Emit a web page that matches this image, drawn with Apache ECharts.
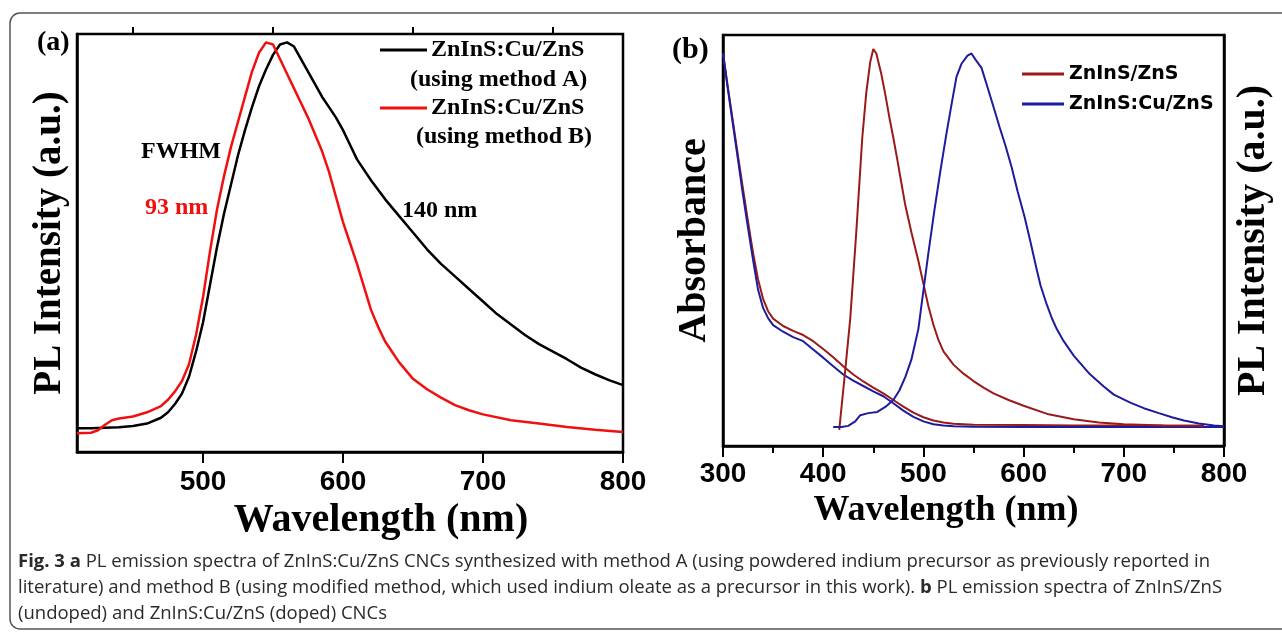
<!DOCTYPE html>
<html>
<head>
<meta charset="utf-8">
<title>Fig. 3</title>
<script src="https://cdn.jsdelivr.net/npm/echarts@6/dist/echarts.min.js"></script>
<style>
html, body { margin: 0; padding: 0; background: #fff; }
#main { width: 1282px; height: 632px; }
</style>
</head>
<body>
<div id="main"></div>
<script>
// (a) PL of ZnInS:Cu/ZnS, method A (black) and method B (red), intensity 0-100 a.u.
var wlA = [410, 420, 430, 440, 450, 460, 470, 475, 480, 485, 490, 495, 500, 505, 510, 515, 520, 525, 530, 535, 540, 545, 550, 555, 560, 565, 570, 575, 580, 585, 590, 595, 600, 605, 610, 620, 630, 640, 650, 660, 670, 680, 690, 700, 710, 720, 730, 740, 750, 760, 770, 780, 790, 800]
var plA = [5.7, 5.7, 5.8, 5.9, 6.2, 6.8, 8.2, 9.5, 11.5, 14, 18, 24, 31, 40, 49, 57, 64, 71, 77, 82.5, 87.5, 91.5, 95, 97.5, 98, 97, 94, 91, 88, 85, 82.5, 80, 77, 73.5, 70, 65, 60.5, 56.5, 52.5, 48.5, 45, 42, 39, 36, 33, 30.5, 28, 25.8, 24, 22.2, 20.2, 18.6, 17.2, 16]
var wlB = [410, 420, 425, 430, 435, 440, 450, 460, 470, 475, 480, 485, 490, 495, 500, 505, 510, 515, 520, 525, 530, 535, 540, 545, 550, 555, 560, 565, 570, 575, 580, 585, 590, 595, 600, 605, 610, 615, 620, 625, 630, 635, 640, 650, 660, 670, 680, 690, 700, 720, 740, 760, 780, 800]
var plB = [4.5, 4.6, 5.2, 6.5, 7.6, 8, 8.5, 9.5, 11, 12.5, 14.5, 17, 21, 28, 37, 48, 58, 66, 73, 79, 85, 91, 95.5, 98, 97.5, 94, 90.5, 87, 83.5, 80, 76, 72, 67, 61, 55, 50, 45, 39.5, 34, 30, 26.5, 24, 21.5, 17.5, 15, 13, 11.2, 10, 9, 7.6, 6.8, 6, 5.3, 4.8]
var ticksA = [500, 600, 700, 800]
var minorTicksA = [450, 550, 650, 750]

// (b) absorbance (left axis) and PL (right axis), undoped = ZnInS/ZnS, doped = ZnInS:Cu/ZnS
var wlAbsU = [300, 305, 310, 315, 320, 325, 330, 335, 340, 345, 350, 360, 370, 380, 390, 400, 410, 420, 430, 440, 450, 460, 470, 480, 490, 500, 510, 520, 530, 550, 600, 650, 700, 750, 780]
var absU = [95.6, 87, 78.8, 70.5, 62.5, 54.5, 47, 40.5, 35.8, 32.8, 31, 29.2, 28, 27, 25.5, 23.6, 21.6, 19.4, 17.4, 15.7, 14.2, 12.8, 11.2, 9.6, 8.1, 7, 6.2, 5.7, 5.4, 5.2, 5.1, 5, 5, 4.9, 4.9]
var wlAbsD = [300, 305, 310, 315, 320, 325, 330, 335, 340, 345, 350, 360, 370, 380, 390, 400, 410, 420, 430, 440, 450, 460, 470, 480, 490, 500, 510, 520, 530, 550, 600, 650, 700, 750, 800]
var absD = [95.6, 86.6, 78.1, 69.6, 61, 53, 45.3, 38, 33.6, 31.1, 29.4, 27.8, 26.5, 25.5, 23.5, 21.5, 19.4, 17.4, 15.9, 14.6, 13.3, 12.1, 10.4, 8.6, 7.1, 6, 5.3, 5, 4.8, 4.7, 4.6, 4.6, 4.6, 4.6, 4.6]
var wlPlU = [416, 421, 427, 433, 439, 443, 447, 450, 453, 458, 462, 466, 470, 474, 478, 482, 488, 495, 500, 505, 510, 515, 520, 530, 540, 550, 560, 570, 585, 600, 625, 650, 675, 700, 740, 780]
var plU = [3.9, 16, 31, 52, 75, 86, 93.5, 96.6, 95.5, 90.5, 85.5, 80, 75, 69.6, 64, 58.5, 52, 45, 39.5, 34, 29.5, 25.8, 23, 19.8, 17.6, 15.8, 14.2, 12.8, 11.2, 9.8, 7.7, 6.5, 5.7, 5.3, 5, 4.9]
var wlPlD = [410, 418, 425, 432, 437, 445, 454, 462, 470, 476, 482, 488, 495, 499, 505, 511, 517, 523, 528, 533, 538, 544, 548, 552, 558, 564, 570, 576, 582, 588, 594, 601, 607, 613, 617, 623, 628, 633, 640, 650, 666, 680, 690, 707, 720, 735, 748, 760, 775, 790, 800]
var plD = [4.6, 4.6, 4.9, 6, 7.5, 8, 8.3, 9.5, 11.2, 13.5, 16.8, 21, 28.5, 36, 47, 57.4, 67, 76, 83, 89.8, 93, 95, 95.5, 94, 92, 87.3, 82.5, 77.6, 73, 67.9, 62, 55.7, 49.5, 43, 39, 34.5, 31.2, 28.5, 25.5, 22, 17.5, 14.5, 12.5, 10.5, 9.2, 8, 7, 6.2, 5.5, 5, 4.8]

var serif = 'Liberation Serif'
var sans = 'Liberation Sans'

function pairs(xs, ys) {
  return xs.map(function (x, i) { return [x, ys[i]] })
}

function txt(x, y, text, size, color, family) {
  return {
    type: 'text', x: x, y: y, silent: true,
    style: {
      text: text, fill: color || '#000', fontSize: size, fontWeight: 'bold',
      fontFamily: family || serif, align: 'left', verticalAlign: 'middle',
      textAlign: 'left', textVerticalAlign: 'middle'
    }
  }
}

function caption(y, text) {
  return {
    type: 'text', x: 18, y: y, silent: true,
    style: {
      text: text, fill: '#2a2a2a', fontSize: 18.5, fontFamily: 'Open Sans',
      verticalAlign: 'middle', textVerticalAlign: 'middle',
      rich: { b: { fontWeight: 'bold', fontSize: 18.5, fontFamily: 'Open Sans', fill: '#2a2a2a' } }
    }
  }
}

var axisBlack = { show: true, lineStyle: { color: '#000', width: 2.5 } }
var noY = {
  min: 0, max: 100, type: 'value', axisLine: axisBlack,
  axisTick: { show: false }, axisLabel: { show: false }, splitLine: { show: false }
}

var option = {
  animation: false,
  backgroundColor: '#fff',
  grid: [
    { left: 77, top: 34, width: 546, height: 418, show: true, borderColor: '#000', borderWidth: 2.5 },
    { left: 723, top: 35, width: 501, height: 411, show: true, borderColor: '#000', borderWidth: 2.5 }
  ],
  xAxis: [
    {
      gridIndex: 0, type: 'value', min: 410, max: 800,
      axisLine: axisBlack,
      axisTick: { customValues: ticksA, length: 11, lineStyle: { color: '#000', width: 2 } },
      axisLabel: { customValues: ticksA, color: '#000', fontFamily: sans, fontWeight: 'bold', fontSize: 28, margin: 16 },
      splitLine: { show: false },
      name: 'Wavelength (nm)', nameLocation: 'middle', nameGap: 43,
      nameTextStyle: { fontFamily: serif, fontWeight: 'bold', fontSize: 40, color: '#000', padding: [0, 0, 0, 62] }
    },
    {
      gridIndex: 0, type: 'value', min: 410, max: 800,
      axisLine: { show: false },
      axisTick: { customValues: minorTicksA, length: 7, lineStyle: { color: '#000', width: 2 } },
      axisLabel: { show: false }, splitLine: { show: false }
    },
    {
      gridIndex: 1, type: 'value', min: 300, max: 800, interval: 100,
      axisLine: axisBlack,
      axisTick: { length: 11, lineStyle: { color: '#000', width: 2 } },
      minorTick: { show: true, splitNumber: 2, length: 7, lineStyle: { color: '#000', width: 2 } },
      axisLabel: { color: '#000', fontFamily: sans, fontWeight: 'bold', fontSize: 28, margin: 14 },
      splitLine: { show: false },
      name: 'Wavelength (nm)', nameLocation: 'middle', nameGap: 46,
      nameTextStyle: { fontFamily: serif, fontWeight: 'bold', fontSize: 36, color: '#000', padding: [0, 55, 0, 0] }
    }
  ],
  yAxis: [
    Object.assign({}, noY, {
      gridIndex: 0, name: 'PL Intensity (a.u.)', nameLocation: 'middle', nameRotate: 90, nameGap: 8,
      nameTextStyle: { fontFamily: serif, fontWeight: 'bold', fontSize: 39, color: '#000' }
    }),
    Object.assign({}, noY, {
      gridIndex: 1, name: 'Absorbance', nameLocation: 'middle', nameRotate: 90, nameGap: 8,
      nameTextStyle: { fontFamily: serif, fontWeight: 'bold', fontSize: 40, color: '#000' }
    }),
    Object.assign({}, noY, {
      gridIndex: 1, position: 'right', name: 'PL Intensity (a.u.)', nameLocation: 'middle', nameRotate: 90, nameGap: 10,
      nameTextStyle: { fontFamily: serif, fontWeight: 'bold', fontSize: 40, color: '#000' }
    })
  ],
  legend: [
    {
      data: ['method A', 'method B'], orient: 'vertical', left: 380, top: 38, padding: 0,
      itemWidth: 47, itemHeight: 3, itemGap: 34, icon: 'rect', selectedMode: false,
      formatter: function () { return 'ZnInS:Cu/ZnS' },
      textStyle: { fontFamily: serif, fontWeight: 'bold', fontSize: 24, lineHeight: 24, color: '#000', padding: [0, 0, 0, -1] }
    },
    {
      data: ['ZnInS/ZnS', 'ZnInS:Cu/ZnS'], orient: 'vertical', left: 1022, top: 64, padding: 0,
      itemWidth: 42, itemHeight: 3, itemGap: 10, icon: 'rect', selectedMode: false,
      textStyle: { fontFamily: 'DejaVu Sans', fontWeight: 'bold', fontSize: 19, lineHeight: 20, color: '#000' }
    }
  ],
  series: [
    {
      name: 'method A', type: 'line', xAxisIndex: 0, yAxisIndex: 0, data: pairs(wlA, plA),
      showSymbol: false, itemStyle: { color: '#000' }, lineStyle: { color: '#000', width: 2.5 }
    },
    {
      name: 'method B', type: 'line', xAxisIndex: 0, yAxisIndex: 0, data: pairs(wlB, plB),
      showSymbol: false, itemStyle: { color: '#f01010' }, lineStyle: { color: '#f01010', width: 2.5 }
    },
    {
      name: 'ZnInS/ZnS', type: 'line', xAxisIndex: 2, yAxisIndex: 1, data: pairs(wlAbsU, absU),
      showSymbol: false, itemStyle: { color: '#9a1a1a' }, lineStyle: { color: '#9a1a1a', width: 2 }
    },
    {
      name: 'ZnInS:Cu/ZnS', type: 'line', xAxisIndex: 2, yAxisIndex: 1, data: pairs(wlAbsD, absD),
      showSymbol: false, itemStyle: { color: '#1c1c9c' }, lineStyle: { color: '#1c1c9c', width: 2 }
    },
    {
      name: 'ZnInS/ZnS', type: 'line', xAxisIndex: 2, yAxisIndex: 2, data: pairs(wlPlU, plU),
      showSymbol: false, itemStyle: { color: '#9a1a1a' }, lineStyle: { color: '#9a1a1a', width: 2 }
    },
    {
      name: 'ZnInS:Cu/ZnS', type: 'line', xAxisIndex: 2, yAxisIndex: 2, data: pairs(wlPlD, plD),
      showSymbol: false, itemStyle: { color: '#1c1c9c' }, lineStyle: { color: '#1c1c9c', width: 2 }
    }
  ],
  graphic: [
    {
      type: 'rect', silent: true, z: -10,
      shape: { x: 10, y: 13, width: 1300, height: 616, r: 10 },
      style: { fill: 'none', stroke: '#555', lineWidth: 1.5 }
    },
    txt(37, 43, '(a)', 28),
    txt(672, 50, '(b)', 30),
    txt(410, 80, '(using method A)', 24),
    txt(416, 137, '(using method B)', 24),
    txt(141, 152, 'FWHM', 24),
    txt(145, 208, '93 nm', 24, '#f01010'),
    txt(402, 211, '140 nm', 24),
    caption(562, '{b|Fig. 3 a} PL emission spectra of ZnInS:Cu/ZnS CNCs synthesized with method A (using powdered indium precursor as previously reported in'),
    caption(588, 'literature) and method B (using modified method, which used indium oleate as a precursor in this work). {b|b} PL emission spectra of ZnInS/ZnS'),
    caption(614, '(undoped) and ZnInS:Cu/ZnS (doped) CNCs')
  ]
}

var chart = echarts.init(document.getElementById('main'))
chart.setOption(option)
window.addEventListener('resize', function () {
  chart.resize()
})
</script>
</body>
</html>
